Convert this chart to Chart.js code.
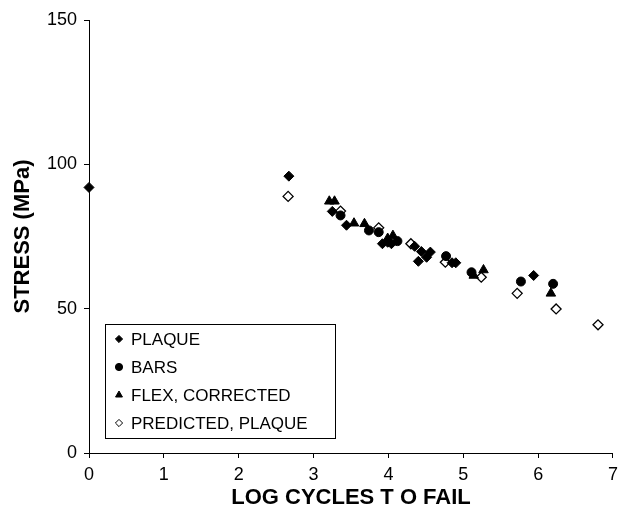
<!DOCTYPE html>
<html>
<head>
<meta charset="utf-8">
<script src="https://cdn.jsdelivr.net/npm/chart.js@4/dist/chart.umd.min.js"></script>
<style>
  html, body { margin: 0; padding: 0; background: #fff; }
  #wrap { width: 624px; height: 509px; position: relative; }
</style>
</head>
<body>
<div id="wrap"><canvas id="sn"></canvas></div>
<script>
// Dữ liệu: log chu kỳ phá hủy (x) và ứng suất MPa (y)
const plaqueX = [0, 2.67, 3.25, 3.44, 3.92, 3.99, 4.04, 4.35, 4.44, 4.56, 4.51, 4.40, 4.85, 4.90, 5.94];
const plaqueY = [92, 95.9, 83.7, 78.9, 72.5, 73.0, 72.5, 71.6, 69.8, 69.6, 67.8, 66.4, 65.9, 65.9, 61.5];

const barsX = [3.36, 3.74, 3.87, 4.12, 4.77, 5.11, 5.77, 6.20];
const barsY = [82.3, 77.1, 76.5, 73.4, 68.2, 62.6, 59.4, 58.6];

const flexX = [3.21, 3.28, 3.54, 3.68, 3.99, 4.06, 5.14, 5.27, 6.17];
const flexY = [87.2, 87.2, 79.6, 79.4, 74.3, 75.3, 61.5, 63.4, 55.3];

const predX = [2.66, 3.36, 3.87, 4.30, 4.76, 5.24, 5.72, 6.24, 6.80];
const predY = [88.9, 83.8, 78.0, 72.5, 66.1, 60.9, 55.3, 49.9, 44.4];

const seriesNames = ['PLAQUE', 'BARS', 'FLEX, CORRECTED', 'PREDICTED, PLAQUE'];
const xTicks = [0, 1, 2, 3, 4, 5, 6, 7];
const yTicks = [0, 50, 100, 150];

const FONT = '"Liberation Sans", Arial, sans-serif';

function toPoints(xs, ys) {
    return xs.map((x, i) => ({ x: x, y: ys[i] }));
}

/**
 * Chú thích vẽ bên trong vùng biểu đồ, góc dưới trái
 */
const insideLegend = {
    id: 'insideLegend',
    afterDraw(chart) {
        const ctx = chart.ctx;
        const box = { left: 105, top: 324, width: 230, height: 114 };
        ctx.save();
        ctx.fillStyle = '#fff';
        ctx.fillRect(box.left, box.top, box.width, box.height);
        ctx.strokeStyle = '#000';
        ctx.lineWidth = 1;
        ctx.strokeRect(box.left + 0.5, box.top + 0.5, box.width, box.height);
        ctx.font = '17px ' + FONT;
        ctx.textBaseline = 'middle';
        ctx.fillStyle = '#000';
        chart.data.datasets.forEach((ds, i) => {
            const y = box.top + 15 + i * 28;
            const style = {
                pointStyle: ds.pointStyle,
                radius: ds.pointStyle === 'triangle' ? 4 : 3.6,
                borderWidth: 1,
                rotation: 0
            };
            ctx.fillStyle = ds.backgroundColor;
            ctx.strokeStyle = ds.borderColor;
            ctx.lineWidth = 1;
            Chart.helpers.drawPoint(ctx, style, box.left + 14, y);
            ctx.fillStyle = '#000';
            ctx.fillText(seriesNames[i], box.left + 26, y + 1);
        });
        ctx.restore();
    }
};

const ctx = document.getElementById('sn').getContext('2d');
new Chart(ctx, {
    type: 'scatter',
    data: {
        datasets: [
            {
                label: seriesNames[0],
                data: toPoints(plaqueX, plaqueY),
                pointStyle: 'rectRot',
                pointRadius: 5,
                backgroundColor: '#000',
                borderColor: '#000',
                borderWidth: 1,
                clip: false
            },
            {
                label: seriesNames[1],
                data: toPoints(barsX, barsY),
                pointStyle: 'circle',
                pointRadius: 4.5,
                backgroundColor: '#000',
                borderColor: '#000',
                borderWidth: 1,
                clip: false
            },
            {
                label: seriesNames[2],
                data: toPoints(flexX, flexY),
                pointStyle: 'triangle',
                pointRadius: 5.5,
                backgroundColor: '#000',
                borderColor: '#000',
                borderWidth: 1,
                clip: false
            },
            {
                label: seriesNames[3],
                data: toPoints(predX, predY),
                pointStyle: 'rectRot',
                pointRadius: 5,
                backgroundColor: '#fff',
                borderColor: '#000',
                borderWidth: 1.3,
                clip: false
            }
        ]
    },
    options: {
        responsive: true,
        maintainAspectRatio: false,
        animation: false,
        layout: {
            padding: { left: 0, right: 9, top: 20, bottom: 0 }
        },
        scales: {
            x: {
                type: 'linear',
                min: 0,
                max: 7,
                afterFit: function(scale) { scale.height = 56; },
                afterBuildTicks: function(scale) {
                    scale.ticks = xTicks.map(v => ({ value: v }));
                },
                border: { display: true, color: '#000', width: 1 },
                grid: {
                    display: true,
                    drawOnChartArea: false,
                    drawTicks: true,
                    tickLength: 5,
                    color: '#000'
                },
                ticks: {
                    color: '#000',
                    padding: 6,
                    maxRotation: 0,
                    font: { family: FONT, size: 18 }
                },
                title: {
                    display: true,
                    text: 'LOG CYCLES T O FAIL',
                    color: '#000',
                    padding: { top: 0, bottom: 0 },
                    font: { family: FONT, size: 22, weight: 'bold', lineHeight: 1 }
                }
            },
            y: {
                type: 'linear',
                min: 0,
                max: 150,
                afterFit: function(scale) { scale.width = 89; },
                afterBuildTicks: function(scale) {
                    scale.ticks = yTicks.map(v => ({ value: v }));
                },
                border: { display: true, color: '#000', width: 1 },
                grid: {
                    display: true,
                    drawOnChartArea: false,
                    drawTicks: true,
                    tickLength: 5,
                    color: '#000'
                },
                ticks: {
                    color: '#000',
                    padding: 7,
                    font: { family: FONT, size: 18 }
                },
                title: {
                    display: true,
                    text: 'STRESS (MPa)',
                    color: '#000',
                    padding: { top: 12, bottom: 0 },
                    font: { family: FONT, size: 22, weight: 'bold', lineHeight: 1 }
                }
            }
        },
        plugins: {
            legend: { display: false },
            tooltip: { enabled: false }
        }
    },
    plugins: [insideLegend]
});
</script>
</body>
</html>
